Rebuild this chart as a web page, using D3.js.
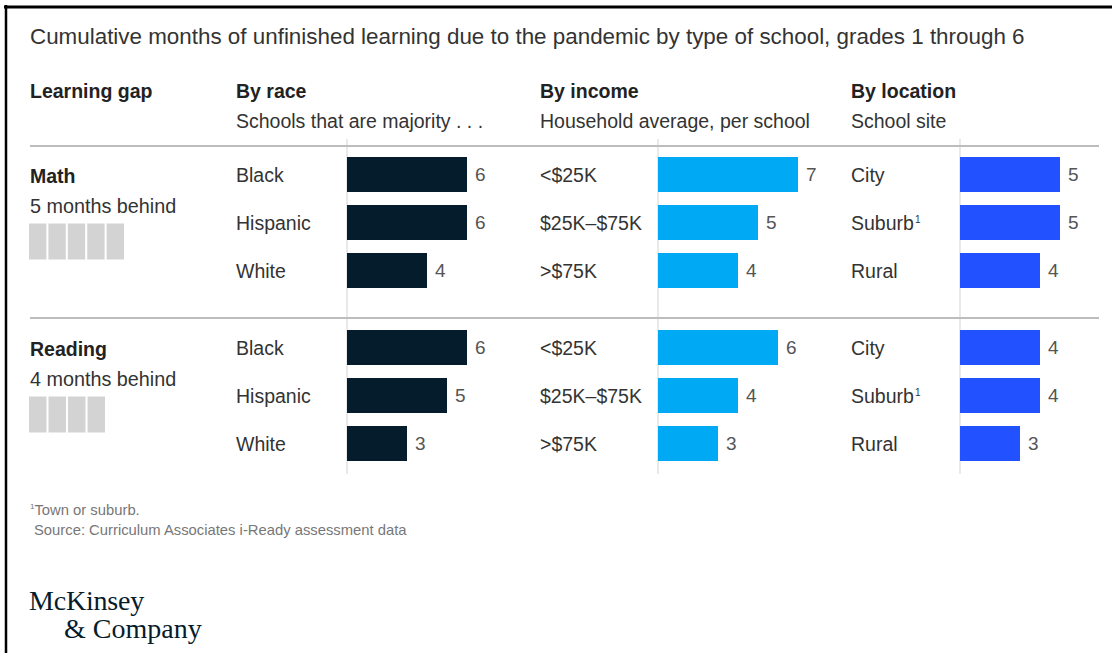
<!DOCTYPE html>
<html>
<head>
<meta charset="utf-8">
<script src="https://cdn.jsdelivr.net/npm/d3@7"></script>
<style>
  html, body { margin: 0; padding: 0; background: #fff; }
  svg { display: block; font-family: "Liberation Sans", Arial, sans-serif; }
</style>
</head>
<body>
<div id="chart"></div>
<script>
// Unfinished learning by school type — small multiple bars
const subjects = ["Math", "Reading"];
const gapMonths = [5, 4];
const raceCats = ["Black", "Hispanic", "White"];
const incomeCats = ["<$25K", "$25K–$75K", ">$75K"];
const locationCats = ["City", "Suburb", "Rural"];
const raceValues = [[6, 6, 4], [6, 5, 3]];
const incomeValues = [[7, 5, 4], [6, 4, 3]];
const locationValues = [[5, 5, 4], [4, 4, 3]];
const groupTitles = ["By race", "By income", "By location"];
const groupSubtitles = ["Schools that are majority . . .", "Household average, per school", "School site"];

(function () {
  const W = 1112, H = 653;
  const svg = d3.select("#chart").append("svg")
    .attr("width", W).attr("height", H);

  // frame
  svg.append("line").attr("x1", 4).attr("x2", W).attr("y1", 7).attr("y2", 7)
    .attr("stroke", "#000").attr("stroke-width", 3);
  svg.append("line").attr("x1", 6).attr("x2", 6).attr("y1", 5).attr("y2", H)
    .attr("stroke", "#000").attr("stroke-width", 2.5);

  svg.append("text").attr("x", 30).attr("y", 44)
    .attr("font-size", "22.4px").attr("fill", "#333")
    .text("Cumulative months of unfinished learning due to the pandemic by type of school, grades 1 through 6");

  const groups = [
    { cats: raceCats, vals: raceValues, labelX: 236, barX: 347, color: "#051c2c" },
    { cats: incomeCats, vals: incomeValues, labelX: 540, barX: 658, color: "#00a9f4" },
    { cats: locationCats, vals: locationValues, labelX: 851, barX: 960, color: "#2251ff" }
  ];

  // headers
  svg.append("text").attr("x", 30).attr("y", 98)
    .attr("font-size", "19.5px").attr("font-weight", "bold").attr("fill", "#222")
    .text("Learning gap");
  groups.forEach((g, i) => {
    svg.append("text").attr("x", g.labelX).attr("y", 98)
      .attr("font-size", "19.5px").attr("font-weight", "bold").attr("fill", "#222")
      .text(groupTitles[i]);
    svg.append("text").attr("x", g.labelX).attr("y", 128)
      .attr("font-size", "19.5px").attr("fill", "#333")
      .text(groupSubtitles[i]);
  });

  const x = d3.scaleLinear().domain([0, 7]).range([0, 140]);
  const panelTop = [150.5, 323.5];

  // vertical guides
  groups.forEach(g => {
    svg.append("line").attr("x1", g.barX).attr("x2", g.barX)
      .attr("y1", 139).attr("y2", 474)
      .attr("stroke", "#e2e2e2").attr("stroke-width", 1.5);
  });

  // horizontal rules
  [146, 318].forEach(yy => {
    svg.append("line").attr("x1", 30).attr("x2", 1099)
      .attr("y1", yy).attr("y2", yy)
      .attr("stroke", "#bdbdbd").attr("stroke-width", 2);
  });

  subjects.forEach((subj, si) => {
    const top = panelTop[si];
    const y = d3.scaleBand().domain([0, 1, 2]).range([top, top + 144])
      .paddingInner(13 / 48).paddingOuter(13 / 96);

    // subject label
    svg.append("text").attr("x", 30).attr("y", top + 32)
      .attr("font-size", "19.5px").attr("font-weight", "bold").attr("fill", "#222")
      .text(subj);
    svg.append("text").attr("x", 30).attr("y", top + 62)
      .attr("font-size", "19.8px").attr("fill", "#333")
      .text(gapMonths[si] + " months behind");

    // month squares
    const sq = d3.scaleBand().domain(d3.range(gapMonths[si]))
      .range([29, 29 + gapMonths[si] * 19]).paddingInner(2 / 19);
    svg.selectAll(null).data(d3.range(gapMonths[si])).join("rect")
      .attr("x", d => sq(d)).attr("y", top + 73)
      .attr("width", sq.bandwidth()).attr("height", 36)
      .attr("fill", "#d3d3d3");

    groups.forEach(g => {
      const vals = g.vals[si];
      const gg = svg.append("g");

      const lab = gg.selectAll(".cat").data(g.cats).join("text")
        .attr("x", g.labelX)
        .attr("y", (d, i) => y(i) + y.bandwidth() / 2)
        .attr("dy", "0.36em")
        .attr("font-size", "19.5px").attr("fill", "#333")
        .text(d => d);
      lab.filter(d => d === "Suburb").append("tspan")
        .attr("font-size", "10px").attr("dy", "-0.7em").attr("dx", "1")
        .text("1");

      gg.selectAll(".bar").data(vals).join("rect")
        .attr("x", g.barX)
        .attr("y", (d, i) => y(i))
        .attr("width", d => x(d))
        .attr("height", y.bandwidth())
        .attr("fill", g.color);

      gg.selectAll(".val").data(vals).join("text")
        .attr("x", d => g.barX + x(d) + 8)
        .attr("y", (d, i) => y(i) + y.bandwidth() / 2)
        .attr("dy", "0.36em")
        .attr("font-size", "19px").attr("fill", "#555")
        .text(d => d);
    });
  });

  // footnotes
  const fn = svg.append("text").attr("x", 30).attr("y", 515)
    .attr("font-size", "14.8px").attr("fill", "#777");
  fn.append("tspan").attr("font-size", "8px").attr("dy", "-6").text("1");
  fn.append("tspan").attr("dy", "6").text("Town or suburb.");
  svg.append("text").attr("x", 34).attr("y", 535)
    .attr("font-size", "14.8px").attr("fill", "#777")
    .text("Source: Curriculum Associates i-Ready assessment data");

  // logo
  svg.append("text").attr("x", 29).attr("y", 610)
    .attr("font-family", "'Liberation Serif', 'DejaVu Serif', serif")
    .attr("font-size", "28px").attr("fill", "#051c2c").attr("letter-spacing", "-0.2")
    .text("McKinsey");
  svg.append("text").attr("x", 64).attr("y", 638)
    .attr("font-family", "'Liberation Serif', 'DejaVu Serif', serif")
    .attr("font-size", "28px").attr("fill", "#051c2c").attr("letter-spacing", "0")
    .text("& Company");
})();
</script>
</body>
</html>
